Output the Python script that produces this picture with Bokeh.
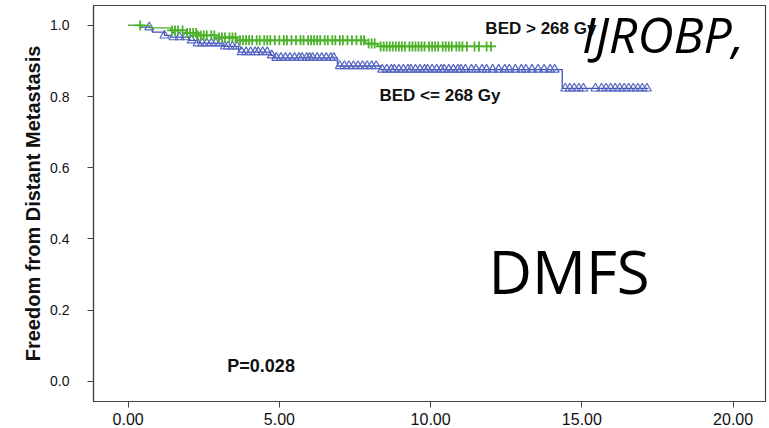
import numpy as np
from bokeh.plotting import figure
from bokeh.models import Label, FixedTicker, Range1d
from bokeh.embed import file_html
from bokeh.resources import INLINE

# ---- data ----
green_times = [0.0, 0.7, 1.4, 1.9, 2.3, 3.0, 3.6, 7.85, 8.25, 12.15]
green_surv = [1.0, 0.993, 0.986, 0.979, 0.972, 0.966, 0.958, 0.949, 0.941, 0.941]
green_censor = [0.40, 1.45, 1.55, 1.65, 1.80, 1.95, 2.05, 2.15, 2.25, 2.30, 2.40, 2.50,
                2.60, 2.75, 2.85, 3.00, 3.10, 3.20, 3.35, 3.45, 3.55, 3.70, 3.80, 3.90,
                4.00, 4.10, 4.25, 4.35, 4.50, 4.60, 4.70, 4.85, 5.00, 5.15, 5.25, 5.40,
                5.55, 5.70, 5.80, 5.95, 6.05, 6.15, 6.25, 6.35, 6.50, 6.60, 6.75, 6.85,
                7.00, 7.10, 7.25, 7.40, 7.55, 7.70, 7.80, 7.95, 8.05, 8.15, 8.35, 8.45,
                8.55, 8.65, 8.75, 8.85, 8.95, 9.05, 9.15, 9.30, 9.40, 9.50, 9.60, 9.70,
                9.80, 9.95, 10.05, 10.15, 10.25, 10.40, 10.50, 10.60, 10.70, 10.85,
                10.95, 11.05, 11.20, 11.45, 11.60, 11.85, 12.00]

blue_times = [0.0, 0.4, 0.8, 1.2, 1.4, 2.0, 2.3, 3.1, 3.65, 4.7, 4.8, 6.92, 8.35, 14.35, 17.2]
blue_surv = [1.0, 0.995, 0.981, 0.972, 0.967, 0.958, 0.950, 0.941, 0.925, 0.916, 0.909,
             0.886, 0.876, 0.823, 0.823]
blue_censor = [0.7, 1.2, 1.5, 1.7, 1.9, 2.1, 2.3, 2.45, 2.6, 2.75, 2.9, 3.05, 3.2, 3.3,
               3.45, 3.6, 3.75, 3.9, 4.05, 4.2, 4.3, 4.45, 4.6, 4.75, 4.9, 5.05, 5.2,
               5.35, 5.5, 5.65, 5.75, 5.9, 6.0, 6.1, 6.25, 6.4, 6.55, 6.7, 6.8, 7.0,
               7.15, 7.3, 7.45, 7.6, 7.75, 7.9, 8.05, 8.2, 8.4, 8.55, 8.7, 8.8, 8.95,
               9.1, 9.25, 9.35, 9.5, 9.65, 9.8, 9.9, 10.05, 10.2, 10.35, 10.45, 10.6,
               10.75, 10.9, 11.0, 11.15, 11.35, 11.5, 11.7, 11.85, 12.05, 12.25, 12.45,
               12.6, 12.8, 13.0, 13.15, 13.35, 13.55, 13.75, 13.95, 14.1, 14.45, 14.6,
               14.75, 14.9, 15.05, 15.45, 15.65, 15.8, 15.95, 16.1, 16.25, 16.4, 16.55,
               16.7, 16.85, 17.0, 17.15]

x_ticks = [0, 5, 10, 15, 20]
x_tick_labels = ["0.00", "5.00", "10.00", "15.00", "20.00"]
y_ticks = [0.0, 0.2, 0.4, 0.6, 0.8, 1.0]
y_tick_labels = ["0.0", "0.2", "0.4", "0.6", "0.8", "1.0"]

y_label = "Freedom from Distant Metastasis"
label_hi = "BED > 268 Gy"
label_lo = "BED <= 268 Gy"
p_text = "P=0.028"


def surv_at(times, surv, t):
    idx = np.searchsorted(np.asarray(times), np.asarray(t), side="right") - 1
    return np.asarray(surv)[idx]


GREEN = "#4cb22a"
BLUE = "#3f52b3"
BLUE_MK = "#5567c2"
AX = "#444444"

p = figure(width=768, height=428, output_backend="svg", toolbar_location=None,
           x_range=Range1d(-1.144, 21.07), y_range=Range1d(-0.057, 1.056),
           min_border_left=93, min_border_right=3, min_border_top=5, min_border_bottom=27)
p.grid.visible = False
p.background_fill_color = "white"
p.border_fill_color = "white"
p.outline_line_color = AX
p.outline_line_width = 1.2

# curves
p.step(blue_times, blue_surv, mode="after", line_color=BLUE, line_width=1.3)
p.scatter(blue_censor, surv_at(blue_times, blue_surv, blue_censor), marker="triangle",
          size=9, line_color=BLUE_MK, fill_alpha=0, line_width=1.2)
p.step(green_times, green_surv, mode="after", line_color=GREEN, line_width=1.3)
p.scatter(green_censor, surv_at(green_times, green_surv, green_censor), marker="cross",
          size=10, line_color=GREEN, line_width=1.8)

# axes
p.xaxis.ticker = FixedTicker(ticks=x_ticks)
p.xaxis.major_label_overrides = {t: l for t, l in zip(x_ticks, x_tick_labels)}
p.yaxis.ticker = FixedTicker(ticks=y_ticks)
p.yaxis.major_label_overrides = {t: l for t, l in zip(y_ticks, y_tick_labels)}
for ax in (p.xaxis, p.yaxis):
    ax.axis_line_color = AX
    ax.axis_line_width = 1.2
    ax.major_tick_line_color = AX
    ax.major_tick_out = 6
    ax.major_tick_in = 0
    ax.minor_tick_line_color = None
    ax.major_label_text_font = "Liberation Sans"
    ax.major_label_text_color = "#111111"
p.xaxis.major_label_text_font_size = "16px"
p.xaxis.major_label_standoff = 5
p.yaxis.major_label_text_font_size = "14px"
p.yaxis.major_label_standoff = 18
p.yaxis.axis_label = y_label
p.yaxis.axis_label_text_font = "Liberation Sans"
p.yaxis.axis_label_text_font_style = "bold"
p.yaxis.axis_label_text_font_size = "20px"
p.yaxis.axis_label_text_color = "#111111"
p.yaxis.axis_label_standoff = 3

# annotations
p.add_layout(Label(x=11.81, y=0.992, text=label_hi, text_font="Liberation Sans",
                   text_font_style="bold", text_font_size="17px", text_baseline="middle",
                   text_color="#111111"))
p.add_layout(Label(x=8.31, y=0.802, text=label_lo, text_font="Liberation Sans",
                   text_font_style="bold", text_font_size="17px", text_baseline="middle",
                   text_color="#111111"))
p.add_layout(Label(x=3.28, y=0.043, text=p_text, text_font="Liberation Sans",
                   text_font_style="bold", text_font_size="18px", text_baseline="middle",
                   text_color="#111111"))
p.add_layout(Label(x=11.91, y=0.311, text="DMFS", text_font="Open Sans",
                   text_font_size="60px", text_baseline="alphabetic", text_color="black"))
p.add_layout(Label(x=15.0, y=0.975, text="IJROBP,", text_font="Open Sans",
                   text_font_style="italic", text_font_size="50px",
                   text_baseline="alphabetic", text_color="black"))

open("out.html", "w").write(file_html(p, INLINE))
